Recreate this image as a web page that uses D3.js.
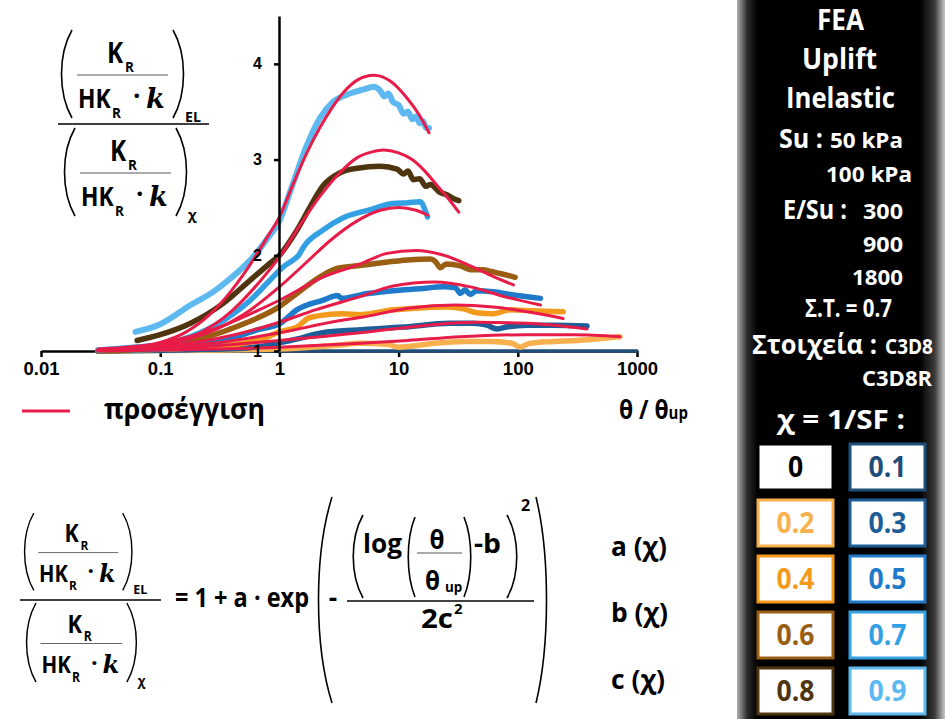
<!DOCTYPE html>
<html><head><meta charset="utf-8">
<script src="https://cdn.jsdelivr.net/npm/d3@7"></script>
<style>body{margin:0;background:#fff}svg{display:block}</style>
</head><body><svg id="c" width="951" height="719"></svg>
<script>
// ---------- data ----------
const xTickValues = [0.01, 0.1, 1, 10, 100, 1000];
const xTickLabels = ["0.01", "0.1", "1", "10", "100", "1000"];
const yTickValues = [1, 2, 3, 4];
const chiLabels = ["0", "0.1", "0.2", "0.3", "0.4", "0.5", "0.6", "0.7", "0.8", "0.9"];
const chiColors = ["#000000", "#1F4E79", "#F9B04E", "#1D5D98", "#F39A1C", "#1F7BC9", "#9A5E12", "#34A0E4", "#4F3410", "#5DB9F0"];
const fitColor = "#E81C48";

// FEA results [theta/theta_up, ratio]
const fea01 = [[0.03,1.0],[1,1.0],[10,1.0],[100,1.0],[1000,1.0]];
const fea02 = [[0.03,1.0],[1,1.02],[3,1.06],[4.8,1.08],[8,1.07],[10,1.04],[12.5,1.05],[20,1.08],[35,1.10],[60,1.10],[90,1.08],[105,1.04],[125,1.08],[200,1.10],[316,1.11],[500,1.13],[720,1.15]];
const fea03 = [[0.03,1.0],[0.5,1.03],[1.24,1.11],[2.3,1.19],[4.5,1.22],[11,1.25],[27,1.29],[42,1.29],[55,1.27],[67,1.23],[80,1.25],[120,1.27],[200,1.27],[380,1.26]];
const fea04 = [[0.03,1.0],[0.3,1.05],[0.7,1.12],[1.0,1.20],[1.4,1.25],[1.8,1.35],[3.4,1.39],[4.8,1.38],[9,1.43],[15,1.45],[25.6,1.46],[35,1.44],[45,1.40],[62,1.39],[87,1.43],[130,1.42],[240,1.41]];
const fea05 = [[0.03,1.0],[0.1,1.02],[0.34,1.11],[0.65,1.22],[1.02,1.29],[1.4,1.43],[2.3,1.53],[3.1,1.58],[3.3,1.55],[5.5,1.60],[9,1.63],[15,1.65],[23.7,1.67],[30,1.66],[33,1.60],[36,1.64],[40,1.59],[45,1.63],[62,1.62],[99,1.58],[155,1.55]];
const fea06 = [[0.03,1.0],[0.1,1.04],[0.22,1.13],[0.54,1.30],[0.96,1.45],[1.4,1.60],[2.1,1.76],[3.0,1.86],[4.5,1.89],[7,1.92],[12,1.95],[18.5,1.96],[20.5,1.93],[22.4,1.87],[25,1.91],[33,1.89],[40,1.85],[51,1.85],[60,1.83],[71,1.81],[95,1.77]];
const fea07 = [[0.03,1.01],[0.06,1.04],[0.095,1.06],[0.18,1.15],[0.34,1.32],[0.57,1.53],[0.79,1.71],[1.08,1.88],[1.3,1.95],[1.45,2.0],[1.6,2.09],[2.3,2.26],[3.4,2.39],[5.5,2.47],[9,2.54],[12,2.55],[15.2,2.56],[16.8,2.46],[17.5,2.40]];
const fea08 = [[0.064,1.11],[0.1,1.17],[0.18,1.29],[0.34,1.50],[0.57,1.74],[0.84,1.92],[1.0,2.0],[1.4,2.26],[1.8,2.50],[2.3,2.72],[3.2,2.86],[4.5,2.91],[7.0,2.93],[9.7,2.90],[11,2.85],[12,2.88],[13.3,2.79],[15,2.80],[17,2.72],[18.5,2.74],[22,2.66],[25.6,2.63],[29,2.59],[32,2.57]];
const fea09 = [[0.062,1.20],[0.1,1.28],[0.18,1.48],[0.28,1.62],[0.39,1.76],[0.6,1.98],[0.8,2.18],[1.0,2.36],[1.3,2.75],[1.7,3.15],[2.2,3.44],[2.8,3.60],[3.9,3.69],[5.0,3.73],[6.2,3.76],[7.0,3.72],[7.6,3.66],[8.2,3.69],[9,3.60],[10,3.57],[11,3.48],[12,3.50],[13,3.42],[14,3.45],[15,3.38],[16,3.40],[17,3.33],[18,3.33]];

// approximation curves (προσέγγιση)
const fit02 = [[0.03,1.0],[0.1,1.01],[1,1.04],[4.8,1.08],[12,1.11],[33,1.15],[120,1.17],[300,1.17],[720,1.15]];
const fit03 = [[0.03,1.01],[0.1,1.025],[0.3,1.055],[1,1.11],[4.77,1.19],[17.5,1.27],[45,1.30],[120,1.29],[380,1.23]];
const fit04 = [[0.03,1.01],[0.1,1.035],[0.3,1.087],[1,1.19],[3,1.31],[4.77,1.35],[12.5,1.45],[30,1.48],[62,1.46],[135,1.40],[240,1.34]];
const fit05 = [[0.03,1.012],[0.1,1.048],[0.3,1.13],[1,1.30],[2,1.43],[4.8,1.57],[9,1.68],[20,1.72],[40,1.67],[76,1.57],[155,1.48]];
const fit06 = [[0.03,1.02],[0.1,1.08],[0.3,1.24],[0.6,1.40],[1,1.53],[2.3,1.77],[4.8,1.91],[8,2.02],[14,2.05],[24,2.0],[40,1.89],[62,1.78],[92,1.69]];
const fit07 = [[0.03,1.01],[0.06,1.03],[0.1,1.06],[0.3,1.23],[0.5,1.38],[1.0,1.67],[1.7,1.93],[2.7,2.16],[4.5,2.36],[7,2.47],[10,2.50],[14,2.47],[17.5,2.42]];
const fit08 = [[0.03,1.005],[0.06,1.02],[0.1,1.06],[0.2,1.17],[0.4,1.42],[0.7,1.74],[1.0,1.98],[1.5,2.32],[2.2,2.62],[3.2,2.86],[4.5,3.02],[6,3.08],[7.5,3.10],[10,3.07],[13,3.0],[16,2.90],[22,2.70],[27,2.57],[32,2.45]];
const fit09 = [[0.03,1.01],[0.06,1.037],[0.1,1.09],[0.16,1.19],[0.26,1.38],[0.39,1.62],[0.5,1.80],[0.8,2.2],[1.0,2.40],[1.3,2.74],[1.7,3.07],[2.2,3.34],[2.8,3.55],[3.5,3.71],[4.5,3.83],[6.2,3.88],[8.5,3.82],[11.8,3.64],[15,3.46],[18,3.28]];

const feaSeries = [
  {chi:1, pts:fea01},{chi:2, pts:fea02},{chi:3, pts:fea03},{chi:4, pts:fea04},{chi:5, pts:fea05},
  {chi:6, pts:fea06},{chi:7, pts:fea07},{chi:8, pts:fea08},{chi:9, pts:fea09}];
const fitSeries = [fit02, fit03, fit04, fit05, fit06, fit07, fit08, fit09];

// ---------- drawing ----------
const svg = d3.select("#c");
const F = "'Open Sans', 'Noto Sans', sans-serif";
const A = "'Liberation Sans', Arial, sans-serif";

// generic text helper: text at (x,y), optional horizontal squeeze sx, or fixed length w
function T(parent, x, y, s, size, o){
  o = o || {};
  const e = parent.append("text")
    .attr("transform", `translate(${x},${y}) scale(${o.sx||1},1)`)
    .attr("font-family", o.italic ? "'DejaVu Serif', serif" : F)
    .attr("font-weight","bold").attr("font-size",size)
    .attr("fill", o.fill || "#000").text(s);
  if (o.anchor) e.attr("text-anchor", o.anchor);
  if (o.italic) e.attr("font-style","italic");
  if (o.w) e.attr("textLength", o.w).attr("lengthAdjust","spacingAndGlyphs");
  return e;
}

// right panel
const defs = svg.append("defs");
const gr = defs.append("linearGradient").attr("id","pg").attr("x1","0").attr("x2","1").attr("y1","0").attr("y2","0");
[[0,"#b0b0b0"],[0.05,"#2a2a2a"],[0.1,"#000"],[0.88,"#000"],[0.95,"#3a3a3a"],[1,"#c8c8c8"]].forEach(s=>gr.append("stop").attr("offset",s[0]).attr("stop-color",s[1]));
svg.append("rect").attr("x",737).attr("y",0).attr("width",208).attr("height",719).attr("fill","url(#pg)");

const W = {fill:"#fff"};
T(svg,817,30,"FEA",28,{...W,w:47});
T(svg,802,69,"Uplift",28,{...W,w:75});
T(svg,786,108,"Inelastic",28,{...W,w:109});
T(svg,779,148,"Su :",27,{...W,w:44});
T(svg,830,148,"50 kPa",21,{...W,w:73});
T(svg,826,182,"100 kPa",21,{...W,w:86});
T(svg,783,219,"E/Su :",27,{...W,w:64});
T(svg,863,219,"300",22,{...W,w:40});
T(svg,863,252,"900",22,{...W,w:40});
T(svg,852,285,"1800",22,{...W,w:51});
T(svg,805,317,"Σ.Τ. = 0.7",25,{...W,w:87});
T(svg,752,354,"Στοιχεία :",26,{...W,w:125});
T(svg,885,354,"C3D8",21,{...W,w:48});
T(svg,862,386,"C3D8R",21,{...W,w:70});
T(svg,777,429,"χ = 1/SF  :",27,{...W,w:128});

// legend boxes
chiLabels.forEach((lab,i)=>{
  const col = i%2, row = Math.floor(i/2);
  const bx = col===0 ? 758 : 850, by = 444 + row*56;
  svg.append("rect").attr("x",bx).attr("y",by).attr("width",75).attr("height",46)
    .attr("fill","#fff").attr("stroke",chiColors[i]).attr("stroke-width",3);
  T(svg,bx+37.5,by+33,lab,28,{anchor:"middle",fill:chiColors[i],sx:0.95});
});

// ---------- formulas ----------
function paren(g, x, y0, y1, bulge){
  const h = y1-y0;
  g.append("path").attr("d",`M${x},${y0} C${x-bulge},${y0+h*0.28} ${x-bulge},${y1-h*0.28} ${x},${y1}`)
   .attr("fill","none").attr("stroke","#000").attr("stroke-width",1.6);
}
function group(x0,y0,sc,sub){
  const g = svg.append("g").attr("transform",`translate(${x0},${y0}) scale(${sc})`);
  paren(g,10,0,88,14);
  paren(g,111,0,88,-14);
  T(g,45,33,"K",28,{sx:0.87});
  T(g,63,42,"R",15,{sx:0.9});
  g.append("line").attr("x1",15).attr("x2",106).attr("y1",45).attr("y2",45).attr("stroke","#555").attr("stroke-width",1);
  T(g,16,78,"HK",26,{sx:0.88});
  T(g,50,88,"R",15,{sx:0.9});
  T(g,71,75,"·",26);
  T(g,84,78,"k",27,{italic:true});
  T(g,123,92,sub,15,{sx:0.95});
}
// top-left
group(62,30,1,"EL");
group(65,128,1,"χ");
svg.append("line").attr("x1",58).attr("x2",209).attr("y1",124).attr("y2",124).attr("stroke","#000").attr("stroke-width",1.6);
// bottom
group(25,513,0.88,"EL");
group(27,603,0.9,"χ");
svg.append("line").attr("x1",20).attr("x2",161).attr("y1",600).attr("y2",600).attr("stroke","#000").attr("stroke-width",1.5);
const gb = svg.append("g");
T(gb,175,607,"= 1 + a · exp",27,{w:134});
paren(gb,332,497,703,18);
paren(gb,536,497,703,-14);
T(gb,333,607,"-",26,{anchor:"middle"});
paren(gb,363,515,598,13);
paren(gb,507,515,598,-13);
T(gb,363,553,"log",27,{w:39});
paren(gb,415,517,597,9);
paren(gb,464,517,597,-9);
T(gb,437,549,"θ",27,{anchor:"middle",sx:0.9});
gb.append("line").attr("x1",417).attr("x2",462).attr("y1",553).attr("y2",553).attr("stroke","#555").attr("stroke-width",1);
T(gb,425,590,"θ",27,{sx:0.9});
T(gb,445,592,"up",15,{sx:0.9});
T(gb,474,553,"-b",27,{w:27});
T(gb,521,511,"2",16);
gb.append("line").attr("x1",347).attr("x2",534).attr("y1",601).attr("y2",601).attr("stroke","#000").attr("stroke-width",1.5);
T(gb,421,628,"2c",27,{w:32});
T(gb,454,614,"2",15);
T(gb,611,556,"a (χ)",27,{w:56});
T(gb,611,622,"b (χ)",27,{w:57});
T(gb,611,689,"c (χ)",27,{w:54});

// ---------- chart ----------
const x = d3.scaleLog().domain([0.01,1000]).range([41,637]);
const y = d3.scaleLinear().domain([1,4.5]).range([351,16]);

const xa = svg.append("g").attr("transform","translate(0,351)")
  .call(d3.axisBottom(x).tickValues(xTickValues).tickFormat((d,i)=>xTickLabels[i]).tickSize(6).tickSizeOuter(0).tickPadding(5));
xa.select(".domain").attr("stroke","#000").attr("stroke-width",2.5);
xa.selectAll(".tick line").attr("stroke","#000").attr("stroke-width",2.5);
xa.selectAll("text").attr("font-family",A).attr("font-weight","bold").attr("font-size",18.5).attr("fill","#000");

const line = d3.line().x(d=>x(d[0])).y(d=>y(d[1])).curve(d3.curveMonotoneX);
const plot = svg.append("g").attr("stroke-linejoin","round").attr("stroke-linecap","round").attr("fill","none");
feaSeries.forEach(s=>{
  plot.append("path").attr("d",line(s.pts)).attr("stroke",chiColors[s.chi])
    .attr("stroke-width", s.chi===1 ? 3.5 : (s.chi===9 ? 6 : 5.5));
});
fitSeries.forEach(f=>{
  plot.append("path").attr("d",line(f)).attr("stroke",fitColor).attr("stroke-width",3);
});

const ya = svg.append("g").attr("transform","translate(279,0)")
  .call(d3.axisLeft(y).tickValues(yTickValues).tickFormat(d3.format("d")).tickSize(5).tickSizeOuter(0).tickPadding(12));
ya.select(".domain").attr("stroke","#000").attr("stroke-width",2.5);
ya.selectAll(".tick line").attr("stroke","#000").attr("stroke-width",2.5);
ya.selectAll("text").attr("font-family",A).attr("font-weight","bold").attr("font-size",16).attr("fill","#000");

// legend + axis title
svg.append("line").attr("x1",22).attr("x2",70).attr("y1",411).attr("y2",411).attr("stroke",fitColor).attr("stroke-width",3);
T(svg,104,419,"προσέγγιση",28,{w:161});
const xt = svg.append("text").attr("transform","translate(619,419) scale(0.88,1)")
  .attr("font-family",F).attr("font-weight","bold").attr("fill","#000");
xt.append("tspan").attr("font-size",26).text("θ / θ");
xt.append("tspan").attr("font-size",17).text("up");
</script></body></html>
